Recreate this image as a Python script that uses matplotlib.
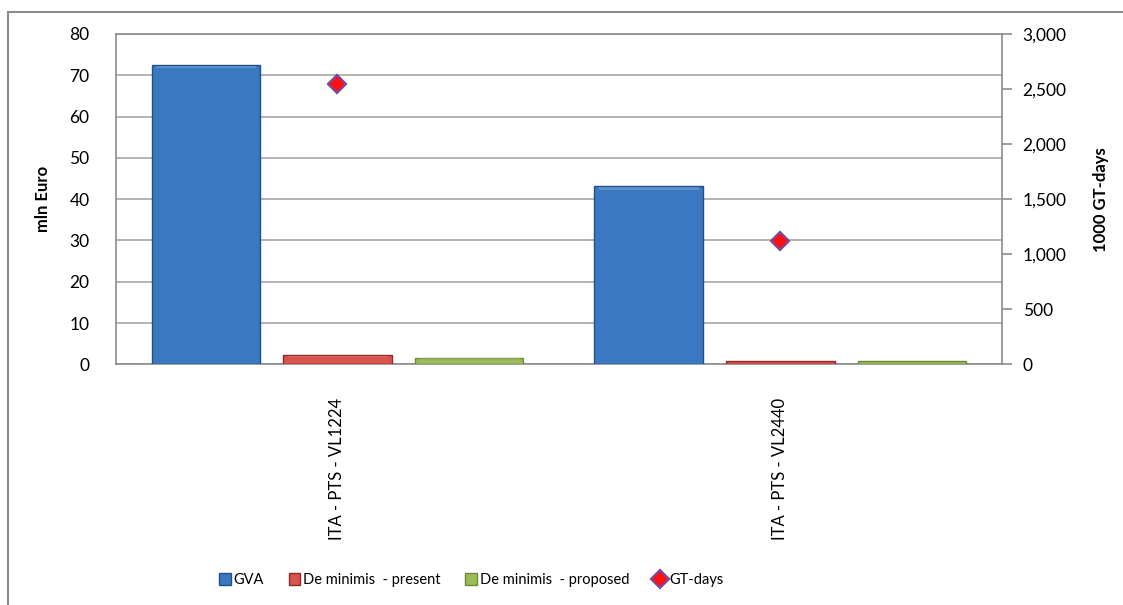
import numpy as np
import matplotlib.pyplot as plt
from matplotlib.patches import Rectangle
from matplotlib.ticker import FuncFormatter, MultipleLocator

plt.rcParams['font.family'] = ['Lato', 'DejaVu Sans']

categories = ["ITA - PTS - VL1224", "ITA - PTS - VL2440"]
gva = [72.6, 43.1]
de_minimis_present = [2.2, 0.7]
de_minimis_proposed = [1.6, 0.7]
gt_days = [2550, 1120]

series = [
    ("GVA", gva, "#3A78C2", "#24508A"),
    ("De minimis  - present", de_minimis_present, "#D9534F", "#8E2A28"),
    ("De minimis  - proposed", de_minimis_proposed, "#9BBB59", "#6E8A36"),
]

fig = plt.figure(figsize=(11.23, 6.05), dpi=100)
W, H = 1123, 605
ax = fig.add_axes([116 / W, 1 - 364.3 / H, (1001.7 - 116) / W, (364.3 - 34) / H])

x = np.arange(len(categories))
width = 0.245
offsets = [-0.297, 0.0, 0.297]

handles = []
for (label, vals, fc, ec), off in zip(series, offsets):
    bars = ax.bar(x + off, vals, width=width, color=fc, edgecolor=ec,
                  linewidth=1.0, zorder=3, label=label)
    handles.append(bars)
    # soft highlight along the top edge of each bar
    for b in bars:
        h = b.get_height()
        ax.add_patch(Rectangle((b.get_x() + 0.01, h - min(0.9, h * 0.25)),
                               b.get_width() - 0.02, min(0.9, h * 0.25) * 0.7,
                               facecolor="white", alpha=0.18, lw=0, zorder=4))

ax.set_xlim(-0.5, 1.5)
ax.set_ylim(0, 80)
ax.yaxis.set_major_locator(MultipleLocator(10))
ax.grid(axis="y", color="#A6A6A6", linewidth=1.2, zorder=0)
ax.set_axisbelow(True)
for s in ax.spines.values():
    s.set_color("#8C8C8C")
    s.set_linewidth(1.2)
ax.tick_params(axis="y", length=0, labelsize=12.5, pad=19, colors="#000000")
ax.tick_params(axis="x", length=0, labelsize=12, pad=24)
ax.set_xticks(x)
ax.set_xticklabels(categories, rotation=90)
ax.set_ylabel("mln Euro", fontsize=12, fontweight="bold", labelpad=13)

ax2 = ax.twinx()
ax2.set_ylim(0, 3000)
ax2.yaxis.set_major_locator(MultipleLocator(500))
ax2.yaxis.set_major_formatter(FuncFormatter(lambda v, p: f"{v:,.0f}"))
ax2.tick_params(axis="y", direction="out", length=7, width=1.2, color="#8C8C8C",
                labelsize=12.5, pad=8)
for s in ax2.spines.values():
    s.set_visible(False)
gt, = ax2.plot(x, gt_days, linestyle="none", marker="D", markersize=9,
               markerfacecolor="#FF1010", markeredgecolor="#7A4A9A",
               markeredgewidth=1.6, zorder=5, label="GT-days")
ax2.set_ylabel("1000 GT-days", fontsize=12, fontweight="bold", labelpad=19)

fig.legend(handles + [gt], [h.get_label() for h in handles] + ["GT-days"],
           loc="center", bbox_to_anchor=(471 / W, 1 - 580 / H), ncol=4,
           frameon=False, fontsize=10.5, handlelength=0.8, handleheight=0.8,
           handletextpad=0.2, columnspacing=1.7)

# chart frame
fig.add_artist(Rectangle((8 / W, -0.05), 1.2, 1 - 12 / H + 0.05,
                         transform=fig.transFigure, fill=False,
                         edgecolor="#8C8C8C", linewidth=1.5, clip_on=False))

fig.savefig("out.png", dpi=100)
